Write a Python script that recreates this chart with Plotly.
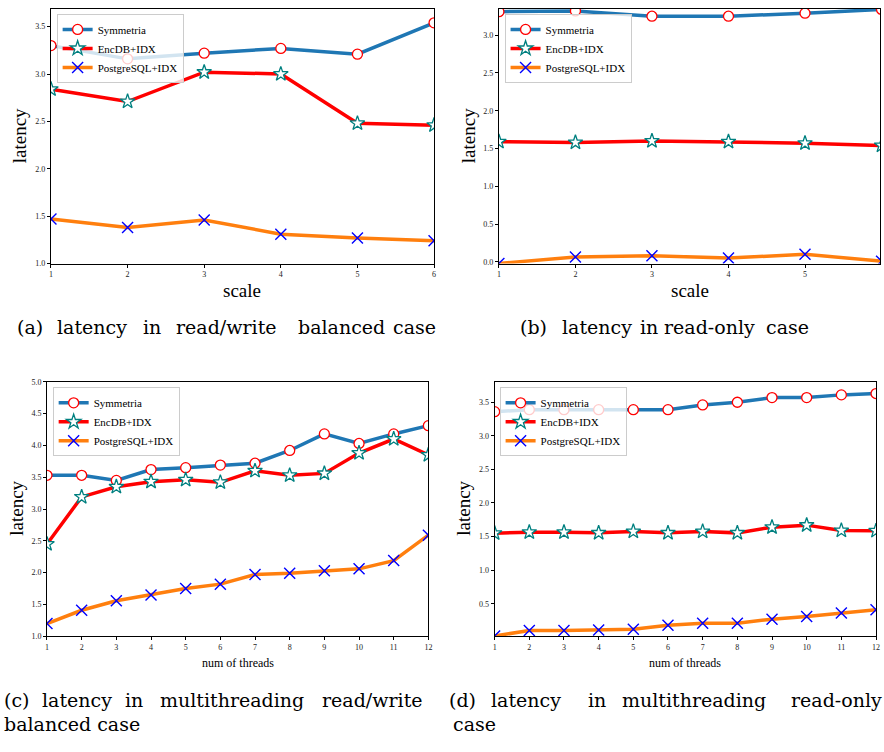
import plotly.graph_objects as go

# x values
scale = [1, 2, 3, 4, 5, 6]
threads = [1, 2, 3, 4, 5, 6, 7, 8, 9, 10, 11, 12]

# (a) read/write balanced
a_sym = [3.30, 3.16, 3.22, 3.27, 3.21, 3.54]
a_enc = [2.84, 2.71, 3.02, 3.00, 2.48, 2.46]
a_pg = [1.47, 1.38, 1.46, 1.31, 1.27, 1.24]

# (b) read-only
b_sym = [3.31, 3.32, 3.25, 3.25, 3.29, 3.34]
b_enc = [1.59, 1.58, 1.60, 1.59, 1.57, 1.54]
b_pg = [-0.02, 0.065, 0.08, 0.05, 0.10, 0.01]

# (c) multithreading read/write balanced
c_sym = [3.53, 3.53, 3.45, 3.62, 3.65, 3.69, 3.72, 3.92, 4.18, 4.03, 4.18, 4.31]
c_enc = [2.45, 3.19, 3.35, 3.43, 3.46, 3.42, 3.60, 3.53, 3.56, 3.88, 4.10, 3.85]
c_pg = [1.20, 1.41, 1.56, 1.65, 1.75, 1.82, 1.97, 1.99, 2.03, 2.06, 2.19, 2.59]

# (d) multithreading read-only
d_sym = [3.36, 3.39, 3.39, 3.39, 3.39, 3.39, 3.46, 3.50, 3.57, 3.57, 3.61, 3.63]
d_enc = [1.55, 1.565, 1.565, 1.555, 1.575, 1.555, 1.575, 1.555, 1.64, 1.67, 1.59, 1.585]
d_pg = [0.02, 0.10, 0.10, 0.11, 0.12, 0.18, 0.21, 0.21, 0.27, 0.31, 0.36, 0.41]

names = ['Symmetria', 'EncDB+IDX', 'PostgreSQL+IDX']

SERIF = 'Liberation Serif, Times New Roman, serif'
CAPTION = 'DejaVu Serif, serif'
W, H = 884, 752


def px_x(p):
    return p / W


def px_y(p):
    return 1 - p / H


styles = [
    dict(line=dict(color='#1f77b4', width=3.5),
         marker=dict(symbol='circle', size=10, color='white',
                     line=dict(color='red', width=1.3))),
    dict(line=dict(color='red', width=3.5),
         marker=dict(symbol='star', size=11, color='white',
                     line=dict(color='teal', width=1.3))),
    dict(line=dict(color='#ff7f0e', width=3.5),
         marker=dict(symbol='x-thin', size=11, color='blue',
                     line=dict(color='blue', width=1.4))),
]

panels = [
    # x data, series, axis suffix, legend id
    (scale, (a_sym, a_enc, a_pg), '', 'legend'),
    (scale, (b_sym, b_enc, b_pg), '2', 'legend2'),
    (threads, (c_sym, c_enc, c_pg), '3', 'legend3'),
    (threads, (d_sym, d_enc, d_pg), '4', 'legend4'),
]

fig = go.Figure()
for xs, series, sfx, leg in panels:
    for name, ys, st in zip(names, series, styles):
        fig.add_trace(go.Scatter(
            x=xs, y=ys, name=name, mode='lines+markers',
            line=st['line'], marker=st['marker'],
            xaxis='x' + sfx, yaxis='y' + sfx, legend=leg,
        ))

axis_common = dict(
    showline=True, linecolor='black', linewidth=1, mirror=True,
    ticks='outside', ticklen=3, tickwidth=0.8, tickcolor='black',
    showgrid=False, zeroline=False,
    tickfont=dict(family=SERIF, size=8, color='#222'),
)

# axis boxes in pixels: (left, right, top, bottom)
boxes = {
    '': (49.3, 435, 4.7, 262.7),
    '2': (500.3, 884, 4.7, 262.7),
    '3': (45.3, 429.3, 382.3, 640),
    '4': (496, 880, 382.7, 640),
}
xranges = {'': [1, 6], '2': [1, 5.98], '3': [1, 12], '4': [1, 12]}
yranges = {'': [1.0, 3.69], '2': [-0.022, 3.35], '3': [1.0, 5.0], '4': [0.014, 3.80]}
xticks = {'': scale, '2': scale, '3': threads, '4': threads}

layout = {}
for sfx, (l, r, t, b) in boxes.items():
    layout['xaxis' + sfx] = dict(
        axis_common, domain=[px_x(l), px_x(r)], range=xranges[sfx],
        anchor='y' + sfx, tickvals=xticks[sfx])
    layout['yaxis' + sfx] = dict(
        axis_common, domain=[px_y(b), px_y(t)], range=yranges[sfx],
        anchor='x' + sfx, dtick=0.5, tickformat='.1f')

legend_common = dict(
    xanchor='left', yanchor='top', bgcolor='rgba(255,255,255,0.8)',
    bordercolor='#cccccc', borderwidth=1, tracegroupgap=0,
    font=dict(family=SERIF, size=11, color='black'),
)
layout['legend'] = dict(legend_common, x=px_x(55), y=px_y(10))
layout['legend2'] = dict(legend_common, x=px_x(506), y=px_y(10))
layout['legend3'] = dict(legend_common, x=px_x(51), y=px_y(388))
layout['legend4'] = dict(legend_common, x=px_x(501), y=px_y(388))

annotations = []


def text_at(txt, x, y, size, xanchor='center', angle=0, family=SERIF):
    annotations.append(dict(
        text=txt, x=px_x(x), y=px_y(y), xref='paper', yref='paper',
        showarrow=False, xanchor=xanchor, yanchor='middle', textangle=angle,
        font=dict(family=family, size=size, color='black')))


# axis titles
text_at('latency', 18, 133, 19, angle=-90)
text_at('latency', 470, 133, 19, angle=-90)
text_at('latency', 15, 510, 19, angle=-90)
text_at('latency', 465, 510, 19, angle=-90)
text_at('scale', 242, 290, 19)
text_at('scale', 693, 290, 19)
text_at('num of threads', 238, 667, 12)
text_at('num of threads', 688, 667, 12)

# captions, placed word by word (LaTeX-style spacing / justification)
captions = [
    (327, [('(a)', 13), ('latency', 53), ('in', 140), ('read/write', 173),
           ('balanced', 296), ('case', 392)]),
    (327, [('(b)', 520), ('latency', 562), ('in', 640), ('read-only', 665),
           ('case', 767)]),
    (704, [('(c)', 0), ('latency', 38), ('in', 122), ('multithreading', 157),
           ('read/write', 320)]),
    (704, [('(d)', 448), ('latency', 490), ('in', 588),
           ('multithreading', 622), ('read-only', 792)]),
    (729, [('balanced case', 0), ('case', 452)]),
]
for y, words in captions:
    for w, x in words:
        text_at(w, x, y, 19, xanchor='left', family=CAPTION)

fig.update_layout(
    **layout,
    annotations=annotations,
    width=W, height=H,
    margin=dict(l=0, r=0, t=0, b=0),
    paper_bgcolor='white', plot_bgcolor='white',
    showlegend=True,
)

# drop the browser's default body margin so the figure sits at the corner
fig.write_html('out.html', config={'displayModeBar': False},
               post_script="document.body.style.margin='0';"
                           "document.body.style.overflow='hidden';")
